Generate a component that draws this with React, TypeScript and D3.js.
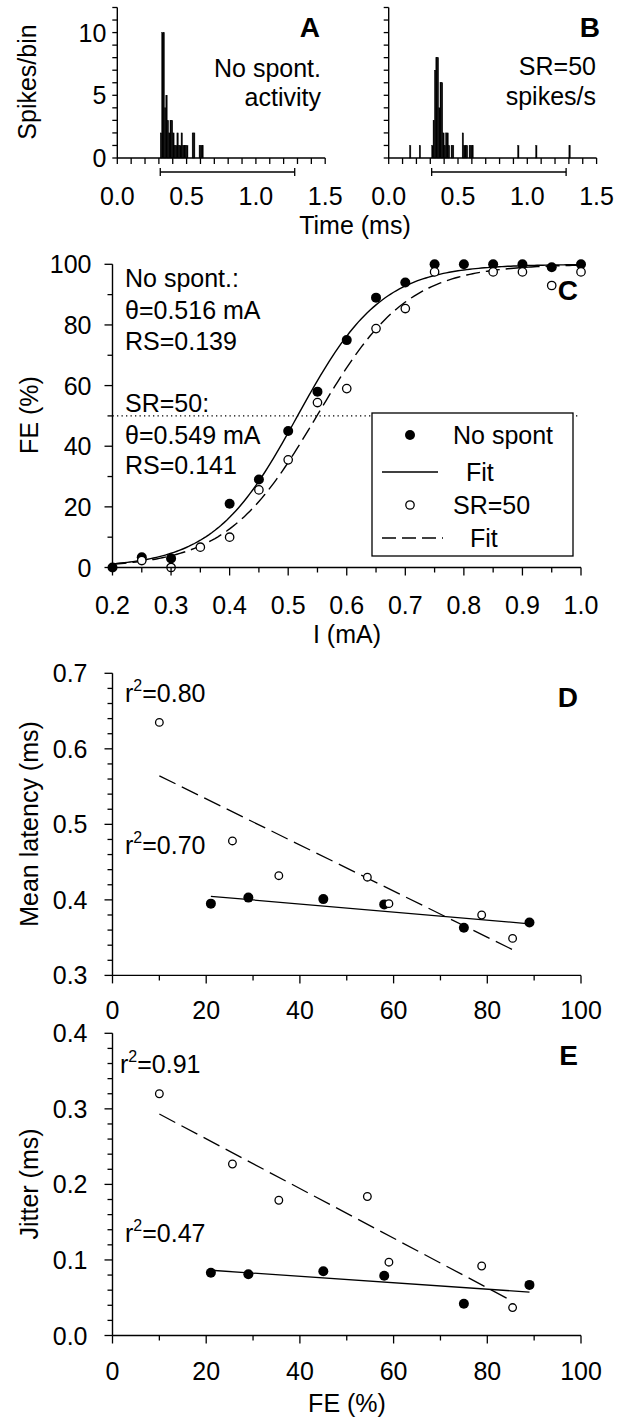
import React from "react";
import * as d3 from "d3";

const FONT = "'Liberation Sans', Arial, Helvetica, sans-serif";
const FS = 25;

// ---------- Panels A & B : spike histograms (0.01 ms bins) ----------
const BIN_MS = 0.01;
const histNoSpontTime = [0.31, 0.32, 0.33, 0.34, 0.35, 0.36, 0.37, 0.38, 0.39, 0.4, 0.41, 0.42, 0.43, 0.44, 0.45, 0.46, 0.47, 0.48, 0.49, 0.5, 0.54, 0.55, 0.59, 0.6, 0.61];
const histNoSpontCount = [2, 10, 10, 4, 5, 3, 2, 3, 3, 2, 1, 1, 2, 1, 1, 2, 1, 1, 1, 1, 2, 2, 1, 1, 1];
const histSR50Time = [0.15, 0.22, 0.31, 0.32, 0.33, 0.34, 0.35, 0.36, 0.37, 0.38, 0.39, 0.4, 0.41, 0.42, 0.43, 0.45, 0.46, 0.53, 0.54, 0.55, 0.56, 0.58, 0.59, 0.6, 0.93, 1.06, 1.3];
const histSR50Count = [1, 1, 1, 3, 7, 8, 8, 4, 6, 6, 2, 1, 2, 2, 1, 1, 1, 2, 1, 1, 1, 1, 1, 1, 1, 1, 1];
const analysisWindow = [0.31, 1.28];
const timeTickLabels = [0, 0.5, 1.0, 1.5];
const spikeTickLabels = [0, 5, 10];

// ---------- Panel C : firing efficiency vs current ----------
const currentNoSpont = [0.2, 0.25, 0.3, 0.4, 0.45, 0.5, 0.55, 0.6, 0.65, 0.7, 0.75, 0.8, 0.85, 0.9, 0.95, 1.0];
const feNoSpont = [0, 3.4, 3, 21, 29, 45, 58, 75, 89, 94, 100, 100, 100, 100, 99, 100];
const currentSR50 = [0.25, 0.3, 0.35, 0.4, 0.45, 0.5, 0.55, 0.6, 0.65, 0.7, 0.75, 0.85, 0.9, 0.95, 1.0];
const feSR50 = [2.3, 0, 6.7, 10, 25.6, 35.5, 54.4, 59, 78.8, 85.4, 97.5, 97.5, 97.5, 93, 97.5];
const thetaNoSpont = 0.516;
const rsNoSpont = 0.139;
const thetaSR50 = 0.549;
const rsSR50 = 0.141;
const currentTickLabels = [0.2, 0.3, 0.4, 0.5, 0.6, 0.7, 0.8, 0.9, 1.0];
const feTickLabels = [0, 20, 40, 60, 80, 100];

// ---------- Panels D & E : latency / jitter vs FE ----------
const feNoSpontDE = [21, 29, 45, 58, 75, 89];
const latencyNoSpont = [0.395, 0.403, 0.401, 0.394, 0.363, 0.37];
const jitterNoSpont = [0.083, 0.081, 0.085, 0.079, 0.042, 0.067];
const feSR50DE = [10, 25.6, 35.5, 54.4, 59, 78.8, 85.4];
const latencySR50 = [0.635, 0.478, 0.432, 0.43, 0.395, 0.38, 0.349];
const jitterSR50 = [0.32, 0.227, 0.179, 0.184, 0.097, 0.092, 0.037];
const latencyTickLabels = [0.3, 0.4, 0.5, 0.6, 0.7];
const jitterTickLabels = [0, 0.1, 0.2, 0.3, 0.4];
const feAxisTickLabels = [0, 20, 40, 60, 80, 100];

// ---------- helpers ----------
function linreg(xs: number[], ys: number[]) {
  const mx = d3.mean(xs) as number;
  const my = d3.mean(ys) as number;
  let sxy = 0, sxx = 0;
  xs.forEach((x, i) => { sxy += (x - mx) * (ys[i] - my); sxx += (x - mx) * (x - mx); });
  const b = sxy / sxx;
  return (x: number) => my + b * (x - mx);
}
function steps(a: number, b: number, s: number) {
  const n = Math.round((b - a) / s);
  return d3.range(n + 1).map(i => +(a + i * s).toFixed(6));
}

const K = "#000";

function XAxis({ sc, y, ticks, labels, fmt, majorLen = 8, minorLen = 5, labelDy = 46 }: any) {
  const [r0, r1] = sc.range();
  const isMajor = (t: number) => labels.some((l: number) => Math.abs(l - t) < 1e-6);
  return (
    <g>
      <line x1={r0} x2={r1} y1={y} y2={y} stroke={K} strokeWidth={1.4} />
      {ticks.map((t: number) => (
        <line key={t} x1={sc(t)} x2={sc(t)} y1={y} y2={y + (isMajor(t) ? majorLen : minorLen)} stroke={K} strokeWidth={1.3} />
      ))}
      {fmt && labels.map((t: number) => (
        <text key={"l" + t} x={sc(t)} y={y + labelDy} textAnchor="middle" fontSize={FS}>{fmt(t)}</text>
      ))}
    </g>
  );
}

function YAxis({ sc, x, ticks, labels, fmt, majorLen = 8, minorLen = 5, labelGap = 22 }: any) {
  const [r0, r1] = sc.range();
  const isMajor = (t: number) => labels.some((l: number) => Math.abs(l - t) < 1e-6);
  return (
    <g>
      <line x1={x} x2={x} y1={r0} y2={r1} stroke={K} strokeWidth={1.4} />
      {ticks.map((t: number) => (
        <line key={t} x1={x - (isMajor(t) ? majorLen : minorLen)} x2={x} y1={sc(t)} y2={sc(t)} stroke={K} strokeWidth={1.3} />
      ))}
      {fmt && labels.map((t: number) => (
        <text key={"l" + t} x={x - labelGap} y={sc(t)} dy="0.36em" textAnchor="end" fontSize={FS}>{fmt(t)}</text>
      ))}
    </g>
  );
}

function Hist({ sx, sy, times, counts }: any) {
  return (
    <g>
      {times.map((t: number, i: number) => (
        <rect key={i} x={sx(t)} y={sy(counts[i])} width={sx(t + BIN_MS) - sx(t)} height={sy(0) - sy(counts[i])} fill={K} stroke={K} strokeWidth={0.4} />
      ))}
    </g>
  );
}

function Sup({ x, y, val }: any) {
  return (
    <text x={x} y={y} fontSize={FS}>
      r<tspan dy={-11} fontSize={16}>2</tspan><tspan dy={11}>{"=" + val}</tspan>
    </text>
  );
}

export default function App() {
  // ---- A & B scales
  const ySp = d3.scaleLinear().domain([0, 12]).range([158, 7.5]);
  const xA = d3.scaleLinear().domain([0, 1.5]).range([117.3, 325.2]);
  const xB = d3.scaleLinear().domain([0, 1.5]).range([388.7, 596.6]);
  const timeTicks = steps(0, 1.5, 0.1);
  const spikeTicks = steps(0, 12, 1);
  const fmt1 = (v: number) => v.toFixed(1);

  // ---- C scales
  const xC = d3.scaleLinear().domain([0.2, 1.0]).range([112.5, 581]);
  const yC = d3.scaleLinear().domain([0, 100]).range([567.5, 264.3]);
  const logistic = (th: number, rs: number) => (I: number) => 100 / (1 + Math.exp(-(I - th) / (rs * th)));
  const curveI = steps(0.2, 1.0, 0.005);
  const lineC = (f: (I: number) => number) =>
    d3.line<number>().x(I => xC(I)).y(I => yC(f(I)))(curveI) as string;
  const fitA = logistic(thetaNoSpont, rsNoSpont);
  const fitB = logistic(thetaSR50, rsSR50);

  // ---- D & E scales
  const xDE = d3.scaleLinear().domain([0, 100]).range([112.5, 581]);
  const yD = d3.scaleLinear().domain([0.3, 0.7]).range([975.4, 673.3]);
  const yE = d3.scaleLinear().domain([0, 0.4]).range([1335.5, 1033.3]);
  const feTicks = steps(0, 100, 10);

  const regLine = (xs: number[], ys: number[], sy: any, dash?: string) => {
    const f = linreg(xs, ys);
    const x0 = d3.min(xs) as number, x1 = d3.max(xs) as number;
    return <line x1={xDE(x0)} y1={sy(f(x0))} x2={xDE(x1)} y2={sy(f(x1))} stroke={K} strokeWidth={1.3} strokeDasharray={dash} />;
  };

  const filled = (cx: number, cy: number, key: any, r = 5) => <circle key={key} cx={cx} cy={cy} r={r} fill={K} />;
  const open = (cx: number, cy: number, key: any, r = 4.2) => <circle key={key} cx={cx} cy={cy} r={r} fill="#fff" stroke={K} strokeWidth={1.3} />;

  const DASH_C = "14,6";
  const DASH_DE = "18,7";

  return (
    <svg width={626} height={1424} style={{ position: "absolute", left: 0, top: 0, background: "#fff" }} fontFamily={FONT} fill={K}>
      <rect width={626} height={1424} fill="#fff" />

      {/* ===== Panel A ===== */}
      <Hist sx={xA} sy={ySp} times={histNoSpontTime} counts={histNoSpontCount} />
      <YAxis sc={ySp} x={117.3} ticks={spikeTicks} labels={spikeTickLabels} fmt={(v: number) => String(v)} majorLen={5} minorLen={5} labelGap={11} />
      <XAxis sc={xA} y={158} ticks={timeTicks} labels={timeTickLabels} fmt={fmt1} majorLen={6} minorLen={6} labelDy={47} />
      <line x1={xA(analysisWindow[0])} x2={xA(analysisWindow[1])} y1={172} y2={172} stroke={K} strokeWidth={1.3} />
      <line x1={xA(analysisWindow[0])} x2={xA(analysisWindow[0])} y1={168} y2={176} stroke={K} strokeWidth={1.3} />
      <line x1={xA(analysisWindow[1])} x2={xA(analysisWindow[1])} y1={168} y2={176} stroke={K} strokeWidth={1.3} />
      <text x={320} y={37} textAnchor="end" fontSize={28} fontWeight="bold">A</text>
      <text x={321} y={77} textAnchor="end" fontSize={FS}>No spont.</text>
      <text x={321} y={106} textAnchor="end" fontSize={FS}>activity</text>
      <text transform="translate(36,82) rotate(-90)" textAnchor="middle" fontSize={FS}>Spikes/bin</text>

      {/* ===== Panel B ===== */}
      <Hist sx={xB} sy={ySp} times={histSR50Time} counts={histSR50Count} />
      <YAxis sc={ySp} x={388.7} ticks={spikeTicks} labels={spikeTickLabels} fmt={null} majorLen={5} minorLen={5} />
      <XAxis sc={xB} y={158} ticks={timeTicks} labels={timeTickLabels} fmt={fmt1} majorLen={6} minorLen={6} labelDy={47} />
      <line x1={xB(analysisWindow[0])} x2={xB(analysisWindow[1])} y1={172} y2={172} stroke={K} strokeWidth={1.3} />
      <line x1={xB(analysisWindow[0])} x2={xB(analysisWindow[0])} y1={168} y2={176} stroke={K} strokeWidth={1.3} />
      <line x1={xB(analysisWindow[1])} x2={xB(analysisWindow[1])} y1={168} y2={176} stroke={K} strokeWidth={1.3} />
      <text x={600} y={37} textAnchor="end" fontSize={28} fontWeight="bold">B</text>
      <text x={596} y={75} textAnchor="end" fontSize={FS}>SR=50</text>
      <text x={596} y={105} textAnchor="end" fontSize={FS}>spikes/s</text>
      <text x={355} y={234} textAnchor="middle" fontSize={FS}>Time (ms)</text>

      {/* ===== Panel C ===== */}
      <line x1={112.5} x2={578} y1={yC(50)} y2={yC(50)} stroke={K} strokeWidth={1.2} strokeDasharray="1.3,3.2" />
      <path d={lineC(fitA)} fill="none" stroke={K} strokeWidth={1.4} />
      <path d={lineC(fitB)} fill="none" stroke={K} strokeWidth={1.4} strokeDasharray={DASH_C} />
      {currentNoSpont.map((I, i) => filled(xC(I), yC(feNoSpont[i]), "cf" + i))}
      {currentSR50.map((I, i) => open(xC(I), yC(feSR50[i]), "co" + i))}
      <YAxis sc={yC} x={112.5} ticks={steps(0, 100, 10)} labels={feTickLabels} fmt={(v: number) => String(v)} labelGap={21} />
      <XAxis sc={xC} y={567.5} ticks={steps(0.2, 1.0, 0.05)} labels={currentTickLabels} fmt={fmt1} labelDy={46} />
      <text x={125} y={287} fontSize={FS}>No spont.:</text>
      <text x={125} y={319} fontSize={FS}>θ=0.516 mA</text>
      <text x={125} y={350} fontSize={FS}>RS=0.139</text>
      <text x={125} y={412} fontSize={FS}>SR=50:</text>
      <text x={125} y={444} fontSize={FS}>θ=0.549 mA</text>
      <text x={125} y={474} fontSize={FS}>RS=0.141</text>
      <text x={578} y={300} textAnchor="end" fontSize={28} fontWeight="bold">C</text>
      <text transform="translate(38,415) rotate(-90)" textAnchor="middle" fontSize={FS}>FE (%)</text>
      <text x={347} y={643} textAnchor="middle" fontSize={FS}>I (mA)</text>
      {/* legend */}
      <rect x={372} y={413} width={201} height={143} fill="#fff" stroke={K} strokeWidth={1.3} />
      {filled(410, 435, "lg1")}
      <text x={453} y={444} fontSize={FS}>No spont</text>
      <line x1={382} x2={438} y1={472} y2={472} stroke={K} strokeWidth={1.4} />
      <text x={466} y={481} fontSize={FS}>Fit</text>
      {open(410, 505, "lg2")}
      <text x={453} y={514} fontSize={FS}>SR=50</text>
      <line x1={382} x2={443} y1={538} y2={538} stroke={K} strokeWidth={1.4} strokeDasharray={DASH_C} />
      <text x={470} y={547} fontSize={FS}>Fit</text>

      {/* ===== Panel D ===== */}
      {regLine(feNoSpontDE, latencyNoSpont, yD)}
      {regLine(feSR50DE, latencySR50, yD, DASH_DE)}
      {feNoSpontDE.map((f, i) => filled(xDE(f), yD(latencyNoSpont[i]), "df" + i))}
      {feSR50DE.map((f, i) => open(xDE(f), yD(latencySR50[i]), "do" + i, 3.8))}
      <YAxis sc={yD} x={112.5} ticks={steps(0.3, 0.7, 0.02)} labels={latencyTickLabels} fmt={fmt1} labelGap={25} />
      <XAxis sc={xDE} y={975.4} ticks={feTicks} labels={feAxisTickLabels} fmt={(v: number) => String(v)} labelDy={44} />
      <Sup x={125} y={702} val="0.80" />
      <Sup x={125} y={854} val="0.70" />
      <text x={578} y={707} textAnchor="end" fontSize={28} fontWeight="bold">D</text>
      <text transform="translate(38,824) rotate(-90)" textAnchor="middle" fontSize={FS}>Mean latency (ms)</text>

      {/* ===== Panel E ===== */}
      {regLine(feNoSpontDE, jitterNoSpont, yE)}
      {regLine(feSR50DE, jitterSR50, yE, DASH_DE)}
      {feNoSpontDE.map((f, i) => filled(xDE(f), yE(jitterNoSpont[i]), "ef" + i))}
      {feSR50DE.map((f, i) => open(xDE(f), yE(jitterSR50[i]), "eo" + i, 3.8))}
      <YAxis sc={yE} x={112.5} ticks={steps(0, 0.4, 0.02)} labels={jitterTickLabels} fmt={fmt1} labelGap={25} />
      <XAxis sc={xDE} y={1335.5} ticks={feTicks} labels={feAxisTickLabels} fmt={(v: number) => String(v)} labelDy={44} />
      <Sup x={120} y={1073} val="0.91" />
      <Sup x={125} y={1242} val="0.47" />
      <text x={578} y={1065} textAnchor="end" fontSize={28} fontWeight="bold">E</text>
      <text transform="translate(38,1184) rotate(-90)" textAnchor="middle" fontSize={FS}>Jitter (ms)</text>
      <text x={347} y={1412} textAnchor="middle" fontSize={FS}>FE (%)</text>
    </svg>
  );
}
